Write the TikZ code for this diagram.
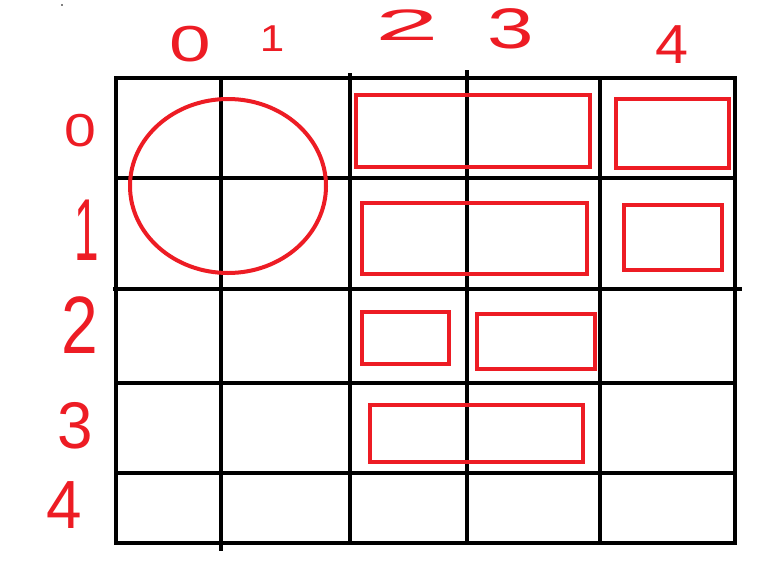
\documentclass[tikz,border=0pt]{standalone}
\usepackage{fontspec}
\setmainfont{Liberation Sans}
\definecolor{pred}{HTML}{ED1C24}
\tikzset{
  gridline/.style={line width=4.3pt, black},
  redshape/.style={line width=4pt, pred},
  lbl/.style={text=pred, inner sep=0pt, font=\fontsize{44}{44}\selectfont},
}
\begin{document}
\begin{tikzpicture}[x=1pt,y=-1pt]
\useasboundingbox (0,0) rectangle (783,573);
% grid
\draw[gridline] (116,78) -- (735,78);
\draw[gridline] (116,178) -- (735,178);
\draw[gridline] (113,289) -- (742,289);
\draw[gridline] (116,383) -- (737,383);
\draw[gridline] (116,473) -- (735,473);
\draw[gridline] (114,543) -- (737,543);
\draw[gridline] (116,76) -- (116,545);
\draw[gridline] (221,76) -- (221,551);
\draw[gridline] (350,73) -- (350,545);
\draw[gridline] (467,70) -- (467,545);
\draw[gridline] (600,76) -- (600,545);
\draw[gridline] (735,76) -- (735,545);
% red shapes
\draw[redshape] (228,186) ellipse [x radius=98, y radius=87];
\draw[redshape] (356,95) rectangle (590,167);
\draw[redshape] (616,99) rectangle (729,168);
\draw[redshape] (362,203) rectangle (587,274);
\draw[redshape] (624,205) rectangle (722,270);
\draw[redshape] (362,312) rectangle (449,364);
\draw[redshape] (477,314) rectangle (595,369);
\draw[redshape] (370,405) rectangle (583,462);
% column labels
\node[lbl, xscale=1.7, yscale=1.15] (c0) at (190,44) {0};
\node[lbl, yscale=0.85] (c1) at (272,39) {1};
\node[lbl, xscale=2.6, yscale=1.0] (c2) at (407,25) {2};
\node[lbl, xscale=1.9, yscale=1.3] (c3) at (511,29) {3};
\node[lbl, xscale=1.35, yscale=1.25] (c4) at (672,45) {4};
% row labels
\node[lbl, xscale=1.3, yscale=1.05] (r0) at (80,131) {0};
\node[lbl, yscale=2.0] (r1) at (87,230) {1};
\node[lbl, xscale=1.5, yscale=1.85] (r2) at (80,325) {2};
\node[lbl, xscale=1.45, yscale=1.5] (r3) at (75,426) {3};
\node[lbl, xscale=1.45, yscale=1.55] (r4) at (64,505) {4};
\fill (62,5) circle (0.8);
\end{tikzpicture}
\end{document}
